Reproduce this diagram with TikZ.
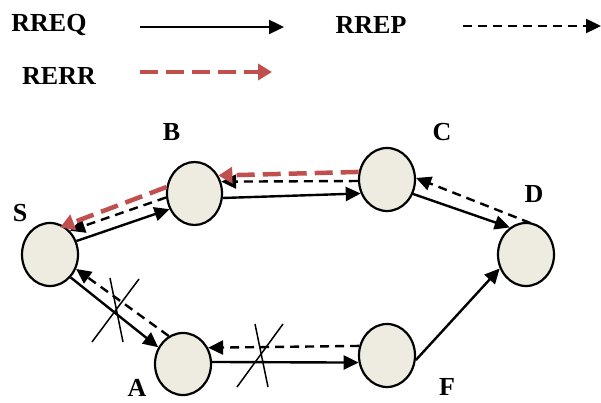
\documentclass[tikz,border=0pt]{standalone}
\usepackage{fontspec}
\setmainfont{Liberation Serif}
\usetikzlibrary{shapes.geometric,arrows.meta}
\definecolor{nodefill}{HTML}{EEECE1}
\definecolor{errred}{HTML}{C0504D}
\tikzset{
  netnode/.style={ellipse,draw=black,line width=2.2pt,fill=nodefill,minimum width=56pt,minimum height=63pt,inner sep=0pt},
  lbl/.style={font=\fontsize{26}{30}\selectfont\bfseries,inner sep=0pt},
  req/.style={line width=2.4pt,-{Triangle[length=15pt,width=14pt]}},
  rep/.style={line width=2.4pt,dash pattern=on 9pt off 6pt,-{Triangle[length=15pt,width=14pt]}},
  err/.style={line width=4.5pt,errred,dash pattern=on 18pt off 8pt,-{Triangle[length=14pt,width=16pt]}},
  cut/.style={line width=1.5pt}
}
\begin{document}
\begin{tikzpicture}[x=1pt,y=-1pt]
\useasboundingbox (0,0) rectangle (601,403);
% legend
\node[lbl] (lreq) at (49,25) {RREQ};
\node[lbl] (lrep) at (371,25) {RREP};
\node[lbl] (lerr) at (59,76) {RERR};
\coordinate (rq1) at (140,27);
\coordinate (rq2) at (284,27);
\coordinate (rp1) at (463,26);
\coordinate (rp2) at (601,26);
\coordinate (re1) at (140,72);
\coordinate (re2) at (272,72);
\draw[req] (rq1) -- (rq2);
\draw[rep] (rp1) -- (rp2);
\draw[err] (re1) -- (re2);
% nodes
\node[netnode] (S) at (50,254.5) {};
\node[netnode,minimum width=55pt] (B) at (194.5,193.5) {};
\node[netnode] (C) at (387,179.5) {};
\node[netnode] (D) at (526,254.5) {};
\node[netnode,minimum height=62pt] (A) at (183,364) {};
\node[netnode] (F) at (387,355.5) {};
% labels
\node[lbl] (lS) at (20,213) {S};
\node[lbl] (lB) at (171.5,132) {B};
\node[lbl] (lC) at (442,132) {C};
\node[lbl] (lD) at (534,194) {D};
\node[lbl] (lA) at (137,388) {A};
\node[lbl] (lF) at (447,387) {F};
% connectors
\draw[req] (S.27) -- (B.212);
\draw[rep] (B.188) -- (S.50);
\draw[err,shorten >=-4pt] (B.167) -- (S.64);
\draw[req] (B.-9) -- (C.208);
\draw[rep] (C.183) -- (B.24);
\draw[err] (C.165) -- (B.37);
\draw[req] (C.-29) -- (D.121);
\draw[rep,shorten <=-3pt] (D.87) -- (C.3);
\draw[req] (S.-48) -- (A.146);
\draw[rep] (A.117) -- (S.-29);
\draw[req] (A.4) -- (F.194);
\draw[rep] (F.161) -- (A.33);
\draw[req] (F.-9) -- (D.208);
% cut marks
\draw[cut] (110,278) -- (123,342);
\draw[cut] (139,279) -- (92,342);
\draw[cut] (255,324) -- (268,387);
\draw[cut] (283,324) -- (237,387);
\end{tikzpicture}
\end{document}
